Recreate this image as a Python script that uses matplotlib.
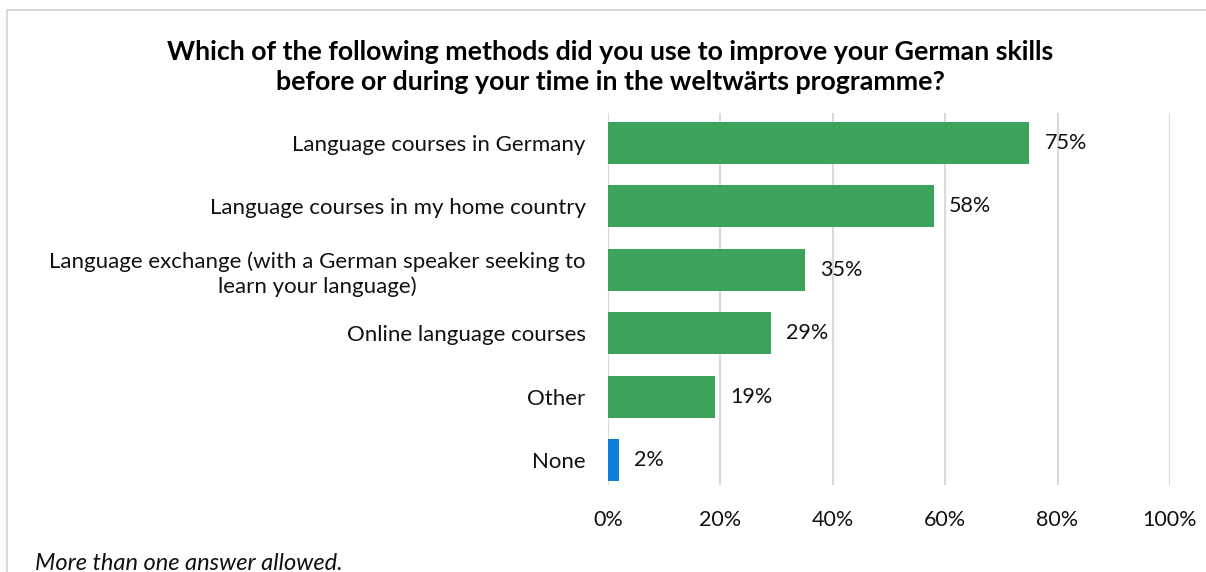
import matplotlib.pyplot as plt
from matplotlib.patches import Rectangle

plt.rcParams['font.family'] = ['Lato', 'DejaVu Sans']

# survey answers, top to bottom
methods = ['Language courses in Germany',
           'Language courses in my home country',
           'Language exchange (with a German speaker seeking to\nlearn your language)',
           'Online language courses',
           'Other',
           'None']
shares = [75, 58, 35, 29, 19, 2]
colors = ['#3da35a'] * 5 + ['#0b80d8']
xticks = [0, 20, 40, 60, 80, 100]

fig = plt.figure(figsize=(12.06, 5.72), dpi=100)
ax = fig.add_axes([0.5041, 0.152, 0.466, 0.6504])

pos = list(range(len(methods)))
ax.barh(pos, shares, height=0.66, color=colors, zorder=3)

for y, v in zip(pos, shares):
    ax.text(v + 2.7, y, f'{v}%', va='center', ha='left', fontsize=15.5, color='#111111', zorder=4)

ax.set_xlim(0, 100)
ax.set_ylim(5.39, -0.47)
ax.set_xticks(xticks)
ax.set_xticklabels([f'{t}%' for t in xticks], fontsize=15.5)
ax.set_yticks(pos)
ax.set_yticklabels(methods, fontsize=16, multialignment='center', linespacing=1.25)
ax.tick_params(axis='both', length=0, colors='#111111')
ax.tick_params(axis='x', pad=18)
ax.tick_params(axis='y', pad=16)
ax.grid(axis='x', color='#d9d9d9', lw=1.5, zorder=0)
for s in ax.spines.values():
    s.set_visible(False)

fig.text(0.506, 0.883, 'Which of the following methods did you use to improve your German skills\n'
         'before or during your time in the weltwärts programme?',
         ha='center', va='center', fontsize=19.3, fontweight='bold', linespacing=1.3)

# chart frame
fig.patches.append(Rectangle((7 / 1206, -0.1), 1.2, 1 - 10 / 572 + 0.1, transform=fig.transFigure,
                             fill=False, edgecolor='#d9d9d9', lw=1.5))

fig.text(35 / 1206, -0.004, 'More than one answer allowed.', fontsize=17, style='italic',
         ha='left', va='bottom', color='#111111')

fig.savefig('out.png', dpi=100)
